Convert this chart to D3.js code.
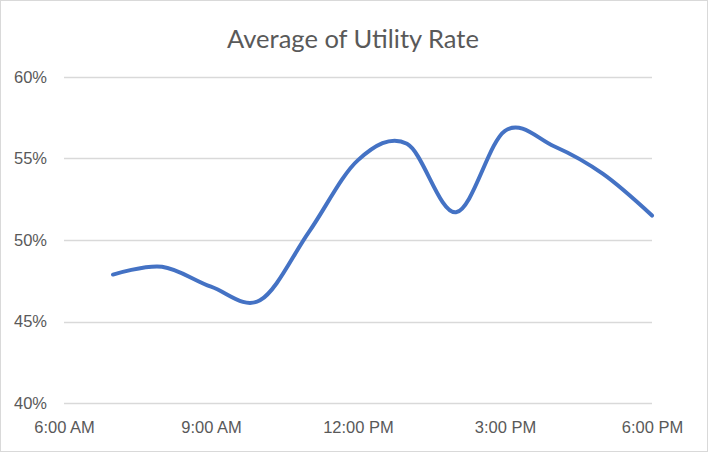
<!DOCTYPE html>
<html>
<head>
<meta charset="utf-8">
<script src="https://cdn.jsdelivr.net/npm/d3@7"></script>
<style>
  body { margin: 0; background: #fff; }
  svg { display: block; font-family: Lato, "Open Sans", sans-serif; }
</style>
</head>
<body>
<svg id="chart"></svg>
<script>
// Datos (hora del día, tasa media)
const hours = [7, 8, 9, 10, 11, 12, 13, 14, 15, 16, 17, 18];
const rates = [0.4788, 0.4836, 0.4714, 0.4630, 0.5050, 0.5490, 0.5590, 0.5170, 0.5670, 0.5575, 0.5405, 0.5150];
const xTicks = [6, 9, 12, 15, 18];
const xTickLabels = ['6:00 AM', '9:00 AM', '12:00 PM', '3:00 PM', '6:00 PM'];
const yTicks = [0.40, 0.45, 0.50, 0.55, 0.60];

const width = 708, height = 452;
const margin = { t: 77, r: 56, b: 49, l: 64 };

const svg = d3.select('#chart').attr('width', width).attr('height', height);

// Marco del gráfico
svg.append('rect')
  .attr('x', 0.5).attr('y', 0.5)
  .attr('width', width - 1).attr('height', height - 1)
  .attr('fill', '#fff').attr('stroke', '#d9d9d9');

const x = d3.scaleLinear().domain([6, 18]).range([margin.l, width - margin.r]);
const y = d3.scaleLinear().domain([0.40, 0.60]).range([height - margin.b, margin.t]);

// Título
svg.append('text')
  .attr('x', 353).attr('y', 48)
  .attr('text-anchor', 'middle')
  .attr('fill', '#595959')
  .style('font-size', '25.5px')
  .text('Average of Utility Rate');

// Rejilla horizontal
svg.append('g')
  .selectAll('line')
  .data(yTicks)
  .enter()
  .append('line')
  .attr('x1', x(6)).attr('x2', x(18))
  .attr('y1', d => Math.round(y(d)) + 0.5)
  .attr('y2', d => Math.round(y(d)) + 0.5)
  .attr('stroke', '#d9d9d9')
  .attr('stroke-width', 1.5);

// Eje Y
const yAxis = d3.axisLeft(y).tickValues(yTicks).tickFormat(d3.format('.0%')).tickSize(0).tickPadding(17);
const gy = svg.append('g').attr('transform', `translate(${margin.l},0)`).call(yAxis);
gy.select('.domain').remove();
gy.selectAll('text').attr('fill', '#595959').style('font-size', '16.5px').style('font-family', null);

// Eje X
const xAxis = d3.axisBottom(x).tickValues(xTicks).tickFormat((d, i) => xTickLabels[i]).tickSize(0).tickPadding(18);
const gx = svg.append('g').attr('transform', `translate(0,${height - margin.b})`).call(xAxis);
gx.select('.domain').remove();
gx.selectAll('text').attr('fill', '#595959').style('font-size', '16.5px').style('font-family', null);

// Línea suavizada
const line = d3.line()
  .x((d, i) => x(hours[i]))
  .y(d => y(d))
  .curve(d3.curveCardinal.tension(0));

svg.append('path')
  .datum(rates)
  .attr('d', line)
  .attr('fill', 'none')
  .attr('stroke', '#4472c4')
  .attr('stroke-width', 4)
  .attr('stroke-linecap', 'round')
  .attr('stroke-linejoin', 'round');
</script>
</body>
</html>
